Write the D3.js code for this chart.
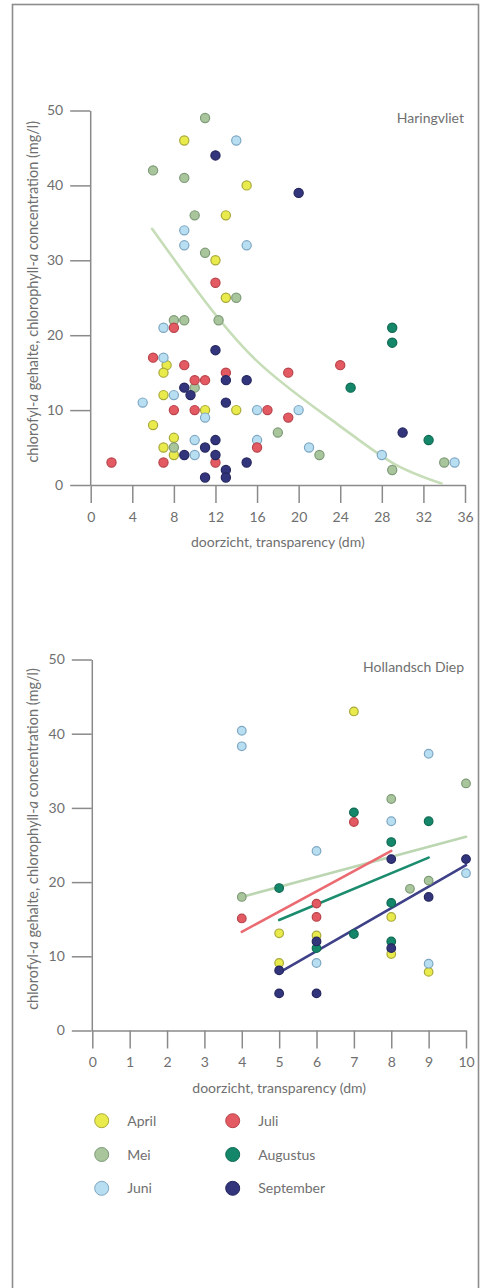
<!DOCTYPE html>
<html>
<head>
<meta charset="utf-8">
<script src="https://cdn.jsdelivr.net/npm/d3@7"></script>
<style>
  html, body { margin: 0; padding: 0; background: #fff; }
  svg { display: block; }
  text { font-family: Lato, "Open Sans", sans-serif; fill: #6f6f6f; }
</style>
</head>
<body>
<svg id="chart" width="488" height="1288"></svg>
<script>
// Months and their marker colours
const months = ["April", "Mei", "Juni", "Juli", "Augustus", "September"];
const fillColors = ["#e9eb4c", "#a9c59c", "#b8def2", "#e35a62", "#14876a", "#33357c"];
const strokeColors = ["#a9a93a", "#7e9a78", "#7ea7c2", "#b8434b", "#0f6a52", "#24265e"];
const lineColors = ["#e9eb4c", "#bcd6b2", "#b8def2", "#ea6b72", "#1b8c6d", "#3e4088"];

// Haringvliet: [doorzicht (dm), chlorofyl-a (mg/l)] per month
const haringApril = [[9,46],[15,40],[13,36],[12,30],[13,25],[7.3,16],[7,15],[7,12],[11,10],[14,10],[6,8],[8,6.3],[7,5],[8,4]];
const haringMei = [[11,49],[6,42],[9,41],[10,36],[11,31],[14,25],[8,22],[9,22],[12.3,22],[10,13],[8,5],[18,7],[22,4],[29,2],[34,3]];
const haringJuni = [[14,46],[9,34],[9,32],[15,32],[7,21],[7,17],[8,12],[5,11],[11,9],[16,10],[10,6],[16,6],[10,4],[20,10],[21,5],[28,4],[35,3]];
const haringJuli = [[12,27],[8,21],[6,17],[9,16],[10,14],[11,14],[13,15],[8,10],[10,10],[12,3],[16,5],[2,3],[7,3],[19,15],[24,16],[17,10],[19,9]];
const haringAugustus = [[29,21],[29,19],[25,13],[32.5,6]];
const haringSeptember = [[12,44],[20,39],[12,18],[13,14],[15,14],[9,13],[9.6,12],[13,11],[12,6],[11,5],[9,4],[12,4],[15,3],[13,2],[13,1],[11,1],[30,7]];
// Fitted curve through the Haringvliet cloud
const haringCurve = [[5.9,34.2],[10.2,26],[16.1,16.4],[23.65,8.2],[29.1,2.9],[33.75,0.2]];
const haringXTicks = [0,4,8,12,16,20,24,28,32,36];

// Hollandsch Diep
const diepApril = [[7,43],[8,15.3],[5,13.1],[6,12.8],[8,10.3],[5,9.1],[9,7.9]];
const diepMei = [[10,33.3],[8,31.2],[9,20.2],[8.5,19.1],[4,18]];
const diepJuni = [[4,40.4],[4,38.3],[9,37.3],[8,28.2],[6,24.2],[10,21.2],[6,9.1],[9,9]];
const diepJuli = [[7,28.1],[6,17.1],[4,15.1],[6,15.3]];
const diepAugustus = [[7,29.4],[9,28.2],[8,25.4],[5,19.2],[8,17.2],[7,13],[6,11.1],[8,12]];
const diepSeptember = [[8,23.1],[10,23.1],[9,18],[6,12],[8,11.1],[5,8.1],[5,5],[6,5]];
// Regression lines per month (start and end)
const diepTrendMei = [[4,18],[10,26.1]];
const diepTrendJuli = [[4,13.3],[8,24.2]];
const diepTrendAugustus = [[5,14.9],[9,23.3]];
const diepTrendSeptember = [[5,7.8],[10,22.3]];
const diepXTicks = [0,1,2,3,4,5,6,7,8,9,10];

const yTicks = [0,10,20,30,40,50];
const xTitle = "doorzicht, transparency (dm)";

const svg = d3.select("#chart");
svg.append("rect").attr("width", 488).attr("height", 1288).attr("fill", "#fff");

// Outer frame
svg.append("rect")
  .attr("x", 12.5).attr("y", 4.5).attr("width", 466).attr("height", 1320)
  .attr("fill", "none").attr("stroke", "#8c8c8c").attr("stroke-width", 1.6);

function yLabel(g, cx, cy) {
  const t = g.append("text")
    .attr("transform", `translate(${cx},${cy}) rotate(-90)`)
    .attr("text-anchor", "middle")
    .attr("font-size", 14.5);
  t.append("tspan").text("chlorofyl-");
  t.append("tspan").attr("font-style", "italic").text("a");
  t.append("tspan").text(" gehalte, chlorophyll-");
  t.append("tspan").attr("font-style", "italic").text("a");
  t.append("tspan").text(" concentration (mg/l)");
}

function panel(opts) {
  const g = svg.append("g");
  const x = d3.scaleLinear().domain(opts.xDomain).range(opts.xRange);
  const y = d3.scaleLinear().domain([0, 50]).range(opts.yRange);

  const axisStyle = sel => {
    sel.selectAll("path.domain").attr("stroke", "#8a8a8a").attr("stroke-width", 1.5);
    sel.selectAll(".tick line").attr("stroke", "#8a8a8a").attr("stroke-width", 1.5);
    sel.selectAll(".tick text").attr("font-size", 14).attr("fill", "#6f6f6f")
      .style("font-family", "Lato, 'Open Sans', sans-serif");
  };

  g.append("g")
    .attr("transform", `translate(${opts.xRange[0] - 0.5},0)`)
    .call(d3.axisLeft(y).tickValues(yTicks).tickSize(20).tickSizeOuter(0).tickPadding(7))
    .call(axisStyle);

  g.append("g")
    .attr("transform", `translate(0,${opts.yRange[0]})`)
    .call(d3.axisBottom(x).tickValues(opts.xTicks).tickSize(18).tickSizeOuter(0).tickPadding(9))
    .call(axisStyle);

  g.append("text")
    .attr("x", (opts.xRange[0] + opts.xRange[1]) / 2)
    .attr("y", opts.yRange[0] + 62)
    .attr("text-anchor", "middle").attr("font-size", 14)
    .text(xTitle);

  g.append("text")
    .attr("x", 464).attr("y", opts.yRange[1] + 12)
    .attr("text-anchor", "end").attr("font-size", 14)
    .text(opts.title);

  yLabel(g, 38, (opts.yRange[0] + opts.yRange[1]) / 2 - 6);

  const line = d3.line().x(d => x(d[0])).y(d => y(d[1]));
  (opts.lines || []).forEach(l => {
    g.append("path").datum(l.data)
      .attr("d", line.curve(l.curve || d3.curveLinear))
      .attr("fill", "none").attr("stroke", l.color)
      .attr("stroke-width", 2.6).attr("stroke-linecap", "round");
  });

  opts.series.forEach((pts, i) => {
    g.append("g").selectAll("circle").data(pts).join("circle")
      .attr("cx", d => x(d[0])).attr("cy", d => y(d[1]))
      .attr("r", opts.r)
      .attr("fill", fillColors[i]).attr("stroke", strokeColors[i]).attr("stroke-width", 1.2);
  });
}

panel({
  title: "Haringvliet",
  xDomain: [0, 36], xRange: [90.7, 465], yRange: [485, 110.5],
  xTicks: haringXTicks, r: 4.6,
  series: [haringApril, haringMei, haringJuni, haringJuli, haringAugustus, haringSeptember],
  lines: [{ data: haringCurve, color: "#c6ddb8", curve: d3.curveNatural }]
});

panel({
  title: "Hollandsch Diep",
  xDomain: [0, 10], xRange: [92.3, 466], yRange: [1030.5, 659.5],
  xTicks: diepXTicks, r: 4.3,
  series: [diepApril, diepMei, diepJuni, diepJuli, diepAugustus, diepSeptember],
  lines: [
    { data: diepTrendMei, color: lineColors[1] },
    { data: diepTrendJuli, color: lineColors[3] },
    { data: diepTrendAugustus, color: lineColors[4] },
    { data: diepTrendSeptember, color: lineColors[5] }
  ]
});

// Legend: two columns of three months
const legend = svg.append("g");
months.forEach((m, i) => {
  const col = Math.floor(i / 3), row = i % 3;
  const cx = col === 0 ? 101.7 : 232.7;
  const cy = 1120.7 + row * 33.8;
  legend.append("circle").attr("cx", cx).attr("cy", cy).attr("r", 7)
    .attr("fill", fillColors[i]).attr("stroke", strokeColors[i]).attr("stroke-width", 1);
  legend.append("text").attr("x", cx + 25.5).attr("y", cy + 5)
    .attr("font-size", 14).text(m);
});
</script>
</body>
</html>
